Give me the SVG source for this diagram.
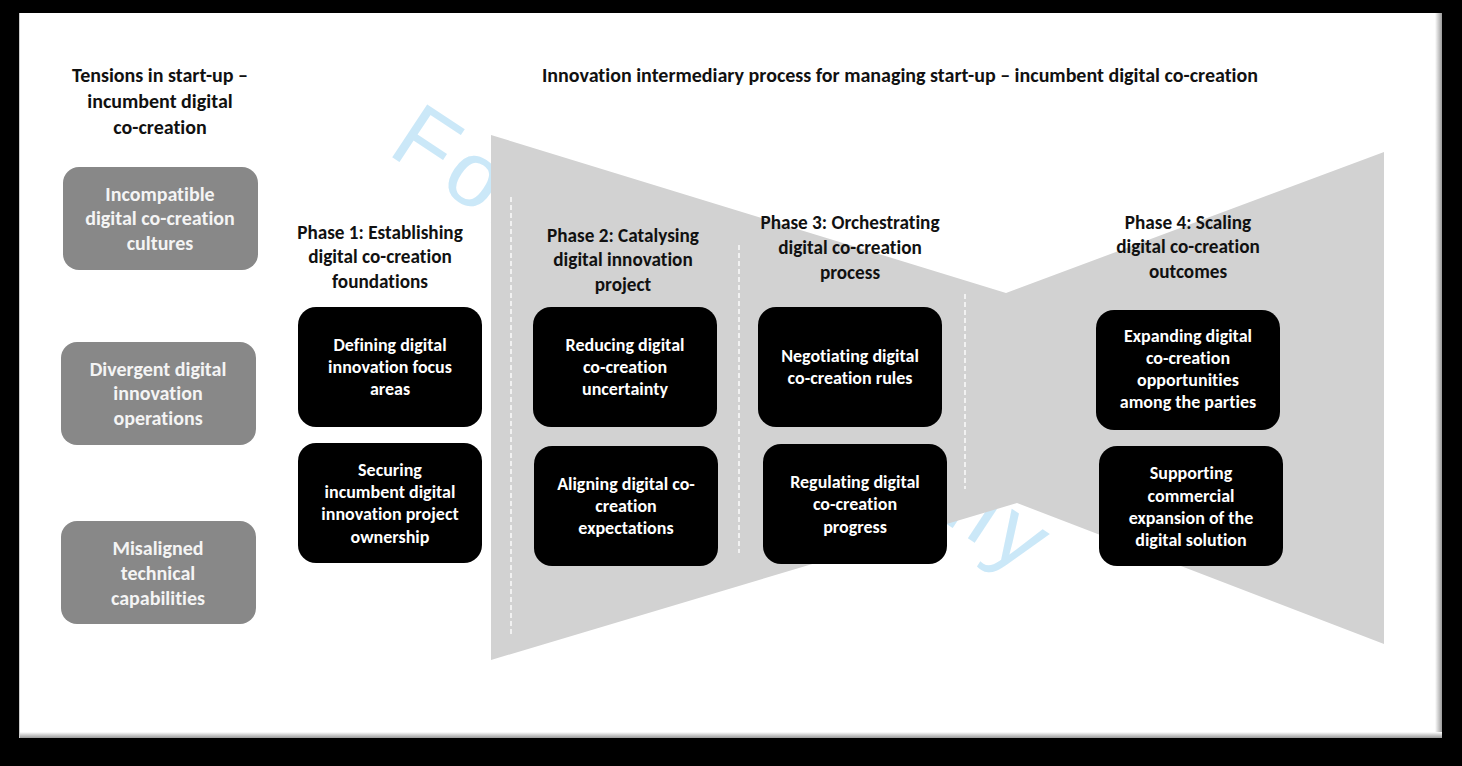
<svg xmlns="http://www.w3.org/2000/svg" width="1462" height="766" viewBox="0 0 1462 766">
<defs>
<style>
text{font-family:Carlito,Lato,"Liberation Sans",sans-serif;font-weight:bold;text-anchor:middle;font-variant-ligatures:none;font-feature-settings:"liga" 0,"clig" 0}
.h{font-size:20px;fill:#111}
.p{font-size:19.2px;fill:#111}
.g{fill:#888}
.gt{font-size:20px;fill:#f4f4f4}
.b{fill:#000}
.bt{font-size:18px;fill:#fff}
.div{stroke:#fff;stroke-width:1.5;stroke-dasharray:5 3;fill:none;opacity:0.9}
.wm{font-family:"Liberation Sans",Arial,sans-serif;font-weight:normal;font-size:92px;fill:#cbe8f8;text-anchor:start;letter-spacing:6px}
</style>
<linearGradient id="sr" x1="0" x2="1" y1="0" y2="0"><stop offset="0" stop-color="#fff"/><stop offset="1" stop-color="#9a9a9a"/></linearGradient>
<linearGradient id="sb" x1="0" x2="0" y1="0" y2="1"><stop offset="0" stop-color="#fff"/><stop offset="1" stop-color="#9a9a9a"/></linearGradient>
</defs>
<rect x="0" y="0" width="1462" height="766" fill="#000"/>
<rect x="19" y="13" width="1423" height="725" fill="#fff"/>
<rect x="1435" y="13" width="7" height="725" fill="url(#sr)"/>
<rect x="19" y="732" width="1423" height="6" fill="url(#sb)"/>
<line x1="19.5" y1="13" x2="19.5" y2="738" stroke="#ccc" stroke-width="1"/>

<g id="watermark">
<text class="wm" transform="translate(386,153) rotate(33.5)">For Review Only</text>
</g>

<g id="funnel">
<polygon points="491,135 1006,293 1384,152 1384,644 1017,503 491,660" fill="#d2d2d2"/>
</g>

<g id="connectors">
<line class="div" x1="511" y1="197" x2="511" y2="634"/>
<line class="div" x1="739" y1="245" x2="739" y2="553"/>
<line class="div" x1="965" y1="294" x2="965" y2="489"/>
</g>

<g id="title-tensions">
<text class="h" x="160" y="82">Tensions in start-up –</text>
<text class="h" x="160" y="108">incumbent digital</text>
<text class="h" x="160" y="134">co-creation</text>
</g>
<g id="title-process">
<text class="h" x="900" y="82">Innovation intermediary process for managing start-up – incumbent digital co-creation</text>
</g>

<g id="tension-1">
<rect class="g" x="63" y="167" width="195" height="103" rx="16"/>
<text class="gt" x="160" y="201">Incompatible</text>
<text class="gt" x="160" y="225">digital co-creation</text>
<text class="gt" x="160" y="250">cultures</text>
</g>
<g id="tension-2">
<rect class="g" x="61" y="342" width="195" height="103" rx="16"/>
<text class="gt" x="158" y="376">Divergent digital</text>
<text class="gt" x="158" y="400">innovation</text>
<text class="gt" x="158" y="425">operations</text>
</g>
<g id="tension-3">
<rect class="g" x="61" y="521" width="195" height="103" rx="16"/>
<text class="gt" x="158" y="555">Misaligned</text>
<text class="gt" x="158" y="580">technical</text>
<text class="gt" x="158" y="605">capabilities</text>
</g>

<g id="phase-1">
<text class="p" x="380" y="239">Phase 1: Establishing</text>
<text class="p" x="380" y="263">digital co-creation</text>
<text class="p" x="380" y="288">foundations</text>
</g>
<g id="phase-2">
<text class="p" x="623" y="242">Phase 2: Catalysing</text>
<text class="p" x="623" y="266">digital innovation</text>
<text class="p" x="623" y="291">project</text>
</g>
<g id="phase-3">
<text class="p" x="850" y="229">Phase 3: Orchestrating</text>
<text class="p" x="850" y="254">digital co-creation</text>
<text class="p" x="850" y="279">process</text>
</g>
<g id="phase-4">
<text class="p" x="1188" y="229">Phase 4: Scaling</text>
<text class="p" x="1188" y="253">digital co-creation</text>
<text class="p" x="1188" y="278">outcomes</text>
</g>

<g id="box-defining">
<rect class="b" x="298" y="307" width="184" height="120" rx="18"/>
<text class="bt" x="390" y="351">Defining digital</text>
<text class="bt" x="390" y="373">innovation focus</text>
<text class="bt" x="390" y="395">areas</text>
</g>
<g id="box-securing">
<rect class="b" x="298" y="443" width="184" height="120" rx="18"/>
<text class="bt" x="390" y="476">Securing</text>
<text class="bt" x="390" y="498">incumbent digital</text>
<text class="bt" x="390" y="520">innovation project</text>
<text class="bt" x="390" y="543">ownership</text>
</g>
<g id="box-reducing">
<rect class="b" x="533" y="307" width="184" height="120" rx="18"/>
<text class="bt" x="625" y="351">Reducing digital</text>
<text class="bt" x="625" y="373">co-creation</text>
<text class="bt" x="625" y="395">uncertainty</text>
</g>
<g id="box-aligning">
<rect class="b" x="534" y="446" width="184" height="120" rx="18"/>
<text class="bt" x="626" y="490">Aligning digital co-</text>
<text class="bt" x="626" y="512">creation</text>
<text class="bt" x="626" y="534">expectations</text>
</g>
<g id="box-negotiating">
<rect class="b" x="758" y="307" width="184" height="120" rx="18"/>
<text class="bt" x="850" y="362">Negotiating digital</text>
<text class="bt" x="850" y="384">co-creation rules</text>
</g>
<g id="box-regulating">
<rect class="b" x="763" y="444" width="184" height="120" rx="18"/>
<text class="bt" x="855" y="488">Regulating digital</text>
<text class="bt" x="855" y="510">co-creation</text>
<text class="bt" x="855" y="533">progress</text>
</g>
<g id="box-expanding">
<rect class="b" x="1096" y="310" width="184" height="120" rx="18"/>
<text class="bt" x="1188" y="342">Expanding digital</text>
<text class="bt" x="1188" y="364">co-creation</text>
<text class="bt" x="1188" y="386">opportunities</text>
<text class="bt" x="1188" y="408">among the parties</text>
</g>
<g id="box-supporting">
<rect class="b" x="1099" y="446" width="184" height="120" rx="18"/>
<text class="bt" x="1191" y="479">Supporting</text>
<text class="bt" x="1191" y="502">commercial</text>
<text class="bt" x="1191" y="524">expansion of the</text>
<text class="bt" x="1191" y="546">digital solution</text>
</g>
</svg>
